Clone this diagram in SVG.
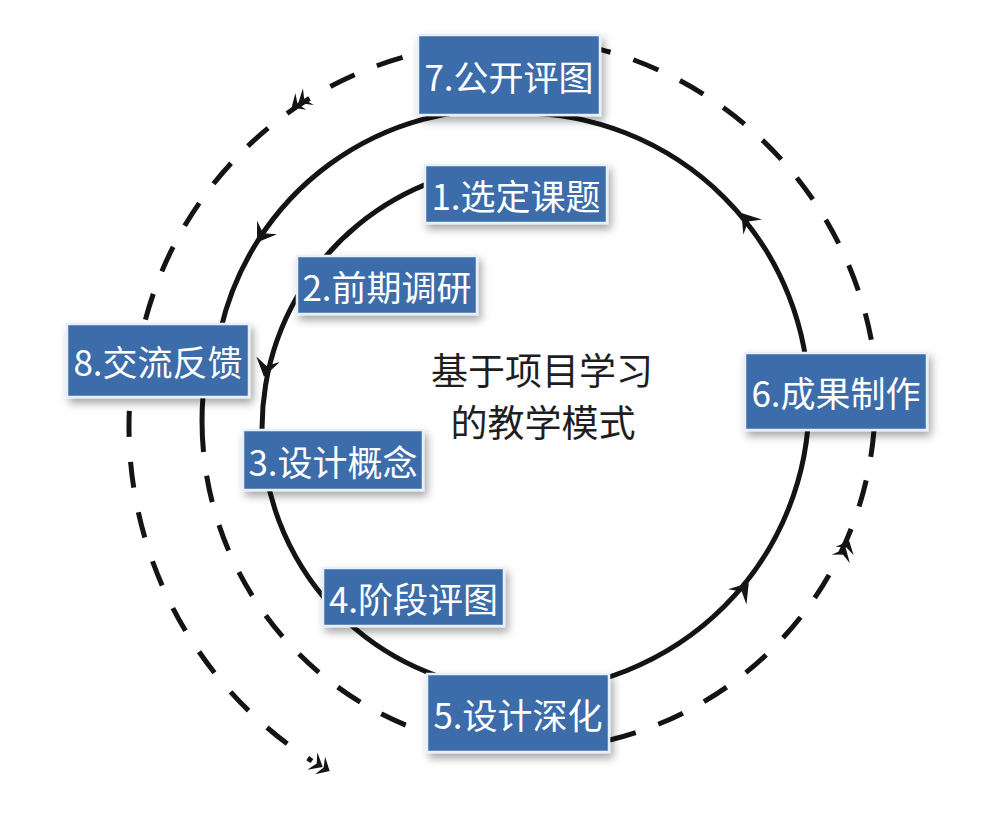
<svg xmlns="http://www.w3.org/2000/svg" xmlns:xlink="http://www.w3.org/1999/xlink" width="1000" height="826" viewBox="0 0 1000 826">
<style>
.box{fill:#3d6cab;stroke:#e6f0fa;stroke-width:2.5;filter:url(#sh)}
.lbl{font-family:"Noto Sans CJK SC","Noto Sans",sans-serif;font-size:35px;fill:#ffffff;text-anchor:middle;dominant-baseline:central}
.ctr{font-family:"Noto Sans CJK SC","Noto Sans",sans-serif;font-size:37px;fill:#1e1e1e;text-anchor:middle;dominant-baseline:central}
.solid{fill:none;stroke:#141414;stroke-width:5}
.dash{fill:none;stroke:#141414;stroke-width:5;stroke-dasharray:27 24}
.ah{fill:#141414}
</style>
<defs>
<filter id="sh" x="-20%" y="-20%" width="140%" height="150%">
<feDropShadow dx="3" dy="5" stdDeviation="4" flood-color="#000" flood-opacity="0.35"/>
</filter>
<path id="arr" d="M9,0 L-9,-12 L-2,0 L-9,12 Z"/>
<path id="darr" d="M10,0 L-1,-10 L3,0 L-1,10 Z M2,0 L-10,-10 L-5,0 L-10,10 Z"/>
</defs>
<rect width="1000" height="826" fill="#ffffff"/>
<g id="connectors">
<path class="solid" d="M520,110.4 A283.5,283.5 0 0 0 220.6,330"/>
<path class="solid" d="M435,180.9 A263,263 0 0 0 525,691"/>
<path class="solid" d="M520,691 A289,289 0 0 0 809,402 A289,289 0 0 0 520,113"/>
<path class="dash" stroke-dashoffset="35" d="M418,53.3 A372,372 0 0 0 144.3,324"/>
<path class="dash" stroke-dashoffset="16" d="M600,49.3 A373,373 0 0 1 873.6,353"/>
<path class="dash" d="M874,430 A348,348 0 0 1 609,740.2"/>
<path class="dash" stroke-dashoffset="37" style="stroke-dasharray:26 25" d="M130.1,397 A397,397 0 0 0 312,761"/>
<path class="dash" style="stroke-dasharray:55 24 27 24 27 24 27 24 27 24 27 24 27 24 27 24 27 24" d="M202.9,397 A329,329 0 0 0 427,733"/>
<use xlink:href="#arr" class="ah" transform="translate(262,235) rotate(124)"/>
<use xlink:href="#arr" class="ah" transform="translate(266,368) rotate(103)"/>
<use xlink:href="#arr" class="ah" transform="translate(743,590) rotate(-50)"/>
<use xlink:href="#arr" class="ah" transform="translate(747,220) rotate(-129)"/>
<use xlink:href="#darr" class="ah" transform="translate(300,102) rotate(147)"/>
<use xlink:href="#darr" class="ah" transform="translate(845,550) rotate(-65)"/>
<use xlink:href="#darr" class="ah" transform="translate(321,766) rotate(30)"/>
</g>
<g id="center-title">
<text class="ctr" x="542" y="369">基于项目学习</text>
<text class="ctr" x="543" y="421">的教学模式</text>
</g>
<g id="node7"><rect class="box" x="418" y="35" width="182" height="80"/><text class="lbl" x="509" y="75">7.公开评图</text></g>
<g id="node1"><rect class="box" x="425" y="165" width="182" height="58"/><text class="lbl" x="516" y="194">1.选定课题</text></g>
<g id="node2"><rect class="box" x="297" y="256" width="180" height="58"/><text class="lbl" x="387" y="285">2.前期调研</text></g>
<g id="node8"><rect class="box" x="67" y="324" width="182" height="73"/><text class="lbl" x="158" y="360.5">8.交流反馈</text></g>
<g id="node3"><rect class="box" x="243" y="430" width="180" height="60"/><text class="lbl" x="333" y="460">3.设计概念</text></g>
<g id="node4"><rect class="box" x="323" y="568" width="181" height="58"/><text class="lbl" x="413.5" y="597">4.阶段评图</text></g>
<g id="node5"><rect class="box" x="427" y="674" width="182" height="78"/><text class="lbl" x="518" y="713">5.设计深化</text></g>
<g id="node6"><rect class="box" x="745" y="353" width="182" height="77"/><text class="lbl" x="836" y="391.5">6.成果制作</text></g>
</svg>
